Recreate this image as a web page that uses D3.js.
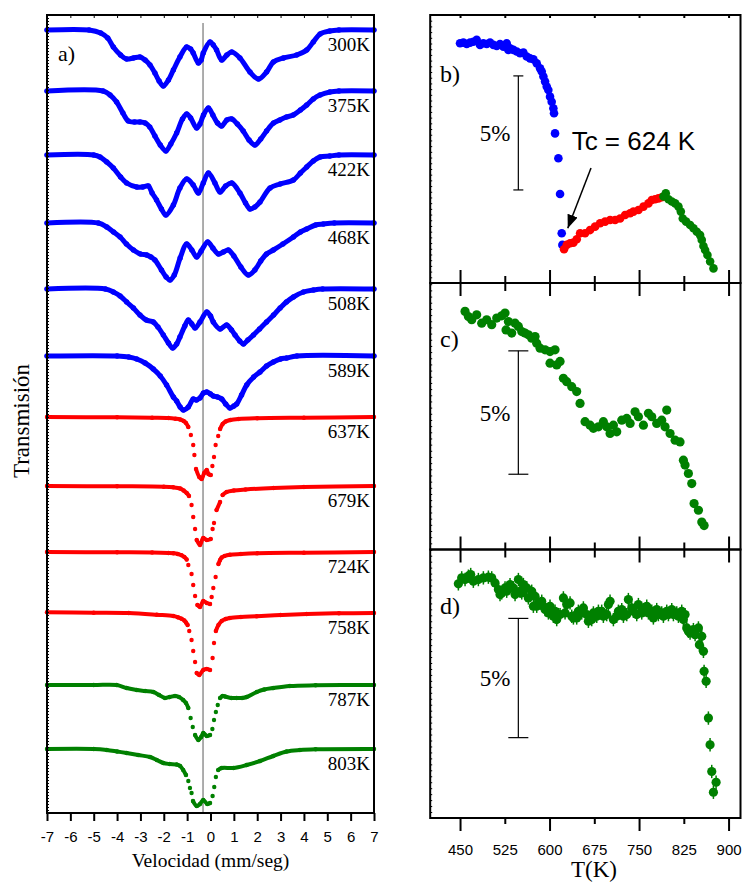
<!DOCTYPE html>
<html lang="es">
<head>
<meta charset="utf-8">
<title>Espectros Mossbauer</title>
<script src="https://d3js.org/d3.v7.min.js"></script>
<style>
  body { margin: 0; background: #fff; }
</style>
</head>
<body>
<div id="chart"></div>
<script>
// ---- datos: espectros (velocidad mm/s, absorcion en u.a.) ----
var s300 = [[-7,0],[-5.2,0],[-4.7,3],[-4.4,8],[-4.16,17],[-3.85,25],[-3.59,29],[-3.3,28],[-3.02,27],[-2.8,30],[-2.59,35],[-2.38,43],[-2.2,51],[-2.02,56],[-1.8,50],[-1.59,40],[-1.31,27],[-1.02,17],[-0.85,19],[-0.74,23],[-0.52,33],[-0.4,30],[-0.31,23],[-0.02,12],[0.12,15],[0.26,20],[0.48,30],[0.7,25],[0.91,22],[1.26,28],[1.69,42],[2.05,49],[2.4,42],[2.69,32],[3.12,28],[3.69,25],[4.12,20],[4.4,12],[4.69,4],[5.11,1],[5.5,0],[7,0]];
var s375 = [[-7,0],[-4.6,0],[-4.3,4],[-4.02,11],[-3.75,22],[-3.52,30],[-3.25,31],[-3.02,31],[-2.8,32],[-2.6,36],[-2.38,45],[-2.15,54],[-1.91,60],[-1.7,53],[-1.45,42],[-1.2,28],[-1.02,23],[-0.85,27],[-0.59,37],[-0.45,33],[-0.3,24],[-0.09,17],[0.1,24],[0.3,32],[0.48,35],[0.7,29],[0.91,28],[1.15,33],[1.4,40],[1.65,49],[1.9,54],[2.15,48],[2.4,40],[2.7,32],[2.97,29],[3.25,26],[3.54,24],[3.85,19],[4.12,14],[4.4,8],[4.69,4],[5.11,1],[5.5,0],[7,0]];
var s422 = [[-7,0],[-5,0],[-4.73,2],[-4.44,7],[-4.16,13],[-3.85,22],[-3.59,28],[-3.16,32],[-2.9,32],[-2.66,31],[-2.5,38],[-2.31,45],[-2.1,54],[-1.91,60],[-1.59,50],[-1.31,33],[-1.02,24],[-0.74,30],[-0.52,38],[-0.31,28],[-0.09,18],[0.19,28],[0.41,37],[0.65,31],[0.91,28],[1.26,38],[1.5,48],[1.69,54],[1.9,52],[2.12,47],[2.55,33],[2.98,29],[3.55,25],[3.85,18],[4.12,12],[4.4,6],[4.69,2],[5.11,1],[5.5,0],[7,0]];
var s468 = [[-7,0],[-4.8,0],[-4.44,4],[-4.15,9],[-3.87,14],[-3.6,21],[-3.3,27],[-3.0,31],[-2.73,32],[-2.55,34],[-2.38,37],[-2.1,47],[-1.9,54],[-1.73,57],[-1.55,52],[-1.3,35],[-1.02,21],[-0.8,27],[-0.59,34],[-0.4,28],[-0.12,19],[0.1,25],[0.34,31],[0.55,29],[0.76,27],[1.0,33],[1.3,44],[1.62,52],[1.9,47],[2.15,38],[2.4,31],[2.69,27],[3.1,21],[3.55,14],[3.85,9],[4.12,6],[4.5,2],[4.83,1],[5.3,0],[7,0]];
var s508 = [[-7,0],[-4.5,0],[-4.16,3],[-3.87,7],[-3.59,13],[-3.3,19],[-3.02,26],[-2.75,31],[-2.45,33],[-2.25,38],[-2.02,46],[-1.8,54],[-1.62,59],[-1.45,55],[-1.31,48],[-1.1,37],[-0.95,31],[-0.8,35],[-0.66,39],[-0.45,33],[-0.16,23],[0.0,27],[0.12,33],[0.41,40],[0.69,36],[0.9,41],[1.05,46],[1.25,52],[1.41,55],[1.6,51],[1.84,46],[2.1,40],[2.4,33],[2.7,26],[2.98,19],[3.25,13],[3.55,8],[3.98,3],[4.41,1],[4.8,0],[7,0]];
var s589 = [[-7,0],[-4,0],[-3.5,1],[-3.16,3],[-2.8,7],[-2.45,13],[-2.15,20],[-1.88,29],[-1.59,41],[-1.45,45],[-1.3,51],[-1.16,54],[-0.95,51],[-0.74,43],[-0.6,44],[-0.45,42],[-0.3,37],[-0.16,36],[0.0,38],[0.12,40],[0.3,41],[0.48,43],[0.65,48],[0.83,52],[1.0,50],[1.12,48],[1.33,39],[1.55,29],[1.85,21],[2.12,16],[2.4,10],[2.69,6],[3.0,3],[3.26,2],[3.7,0],[7,0]];
var s637 = [[-7,0],[-4,0.3],[-2.5,0.7],[-1.8,1],[-1.5,1.7],[-1.3,2.5],[-1.15,4],[-1.05,6],[-0.95,10],[-0.84,18],[-0.74,28],[-0.69,38],[-0.62,52],[-0.48,60],[-0.38,62],[-0.27,56],[-0.16,53],[-0.09,57],[0.01,58],[0.08,49],[0.15,40],[0.22,28],[0.33,19],[0.41,12],[0.52,7],[0.65,4.5],[0.85,3],[1.2,2],[2,1.3],[4,0.7],[7,0]];
var s679 = [[-7,0],[-4,0.3],[-2,0.7],[-1.6,1.3],[-1.3,2.5],[-1.15,4.5],[-1.02,7],[-0.92,10],[-0.81,19],[-0.74,31],[-0.66,43],[-0.59,54],[-0.45,59],[-0.31,52],[-0.16,54],[0.01,53],[0.09,43],[0.15,37],[0.26,24],[0.41,16],[0.52,9],[0.69,6],[1,4.5],[1.5,3.5],[2.7,2],[4,1],[7,0]];
var s724 = [[-7,0],[-4,0.3],[-2.5,0.5],[-1.8,1],[-1.59,1.3],[-1.4,2],[-1.24,3.3],[-1.12,5],[-1.02,7.5],[-0.95,13],[-0.81,22],[-0.74,33],[-0.66,44],[-0.56,53],[-0.45,55],[-0.31,49],[-0.16,51],[-0.02,52],[0.05,45],[0.12,36],[0.22,25],[0.34,12],[0.41,8],[0.48,5.5],[0.6,4],[0.83,2.7],[1.3,2],[2,1.3],[4,0.7],[7,0]];
var s758 = [[-7,-0.7],[-5,-0.3],[-3.5,0],[-2.3,1.7],[-1.59,3],[-1.4,4.3],[-1.24,5.7],[-1.12,7.5],[-1.05,9.5],[-0.98,12],[-0.91,18],[-0.81,27],[-0.74,38],[-0.66,49],[-0.59,60],[-0.48,62],[-0.31,57],[-0.16,56],[-0.02,57],[0.09,45],[0.15,30],[0.23,18],[0.34,12],[0.48,8],[0.65,6],[0.83,5],[1.3,4],[1.98,3.3],[3,2],[4.12,1],[5.5,0.3],[7,0]];
var s787 = [[-7,0],[-5,0],[-4.02,0],[-3.59,3],[-3.16,5],[-2.8,6],[-2.45,7],[-2.2,10],[-1.95,13],[-1.75,12],[-1.52,11],[-1.35,12],[-1.17,15],[-1.05,18],[-0.95,23],[-0.85,33],[-0.76,42],[-0.66,50],[-0.52,55],[-0.4,52],[-0.31,48],[-0.16,51],[-0.02,50],[0.08,44],[0.15,35],[0.23,27],[0.31,20],[0.41,13],[0.52,11],[0.62,11.5],[0.9,13],[1.12,13],[1.35,13],[1.55,12],[1.98,7],[2.3,4.5],[2.69,3],[3.4,1],[4.5,0.3],[7,0]];
var s803 = [[-7,0],[-5,0],[-4.44,1],[-4,2.5],[-3.59,4],[-3.1,6],[-2.59,8],[-2.3,11],[-2.02,14],[-1.75,15],[-1.45,15.5],[-1.3,17],[-1.17,21],[-1.05,26],[-0.95,32],[-0.88,39],[-0.81,44],[-0.75,52],[-0.59,57],[-0.45,55],[-0.31,51],[-0.14,55],[-0.02,54],[0.09,47],[0.16,38],[0.23,28],[0.33,21],[0.48,19],[0.98,19],[1.55,16],[2.12,12],[2.69,7],[3.26,2.5],[3.83,1],[4.5,0.3],[7,0]];

var espectros = [s300, s375, s422, s468, s508, s589, s637, s679, s724, s758, s787, s803];
var temperaturas = ["300K","375K","422K","468K","508K","589K","637K","679K","724K","758K","787K","803K"];
var fases = ["ferri","ferri","ferri","ferri","ferri","ferri","para","para","para","para","alta","alta"];
var desplaz = [15, 76, 140, 208, 274, 341, 402, 471, 537, 598, 670, 734];
var centro = -0.32;
var velTicks = d3.range(-7, 8);

// ---- datos: area vs temperatura (T en K, area relativa en %) ----
var bAzul = [[450,10.51],[455.6,10.54],[461.2,10.48],[466.8,10.54],[472.3,10.58],[477.9,10.66],[483.5,10.44],[489.1,10.51],[494.7,10.48],[500.3,10.54],[505.9,10.44],[511.5,10.39],[517,10.48],[522.6,10.36],[528.2,10.51],[531,10.22],[533.8,10.29],[539.4,10.22],[545,10.15],[550.6,10.07],[556.2,10.1],[561.7,9.93],[567.3,9.85],[572.9,9.81],[578.5,9.63],[584.1,9.41],[586.9,9.27],[589.7,9.05],[592.5,8.83],[595.3,8.61],[598,8.46],[600.8,8.17],[603.6,7.95],[606.4,7.66],[607.5,7.44],[609.2,6.56],[614.8,5.47],[617.6,3.9],[620.4,2.18],[621.5,1.67]];
var bRojo = [[624.3,1.48],[628.8,1.67],[634.4,1.74],[640,1.77],[645.6,1.92],[651.2,2.18],[659.5,2.18],[667.9,2.32],[676.3,2.47],[684.7,2.62],[693.1,2.69],[701.5,2.76],[709.9,2.76],[718.2,2.83],[726.6,2.98],[735,3.06],[740.6,3.13],[749,3.2],[757.4,3.35],[765.7,3.49],[771.3,3.64],[776.9,3.67],[782.5,3.71],[788.1,3.76]];
var bVerde = [[790.9,3.79],[794.8,3.93],[799.3,3.67],[804.9,3.57],[810.5,3.49],[816,3.35],[820,3.13],[823.3,2.83],[828.9,2.69],[835.6,2.54],[841.2,2.4],[846.8,2.25],[852.3,2.1],[855.1,1.89],[857.9,1.62],[860.7,1.45],[864.6,1.23],[869.1,0.94],[874.7,0.64]];
var cVerde = [[458.4,9.65],[464,9.44],[469.6,9.31],[477.9,9.51],[486.3,9.17],[494.7,9.31],[503.1,9.11],[511.5,9.38],[519.8,9.47],[525.4,9.58],[531,9.24],[527.1,8.9],[536.6,8.77],[542.2,9.17],[547.8,9.04],[553.4,8.83],[558.9,8.77],[564.5,8.7],[570.1,8.56],[575.7,8.63],[578.5,8.36],[584.1,8.16],[592.5,8.09],[600.8,8.02],[609.2,8.09],[600.8,7.55],[612,7.48],[617.6,7.62],[623.2,6.94],[628.8,6.8],[637.2,6.6],[645.5,6.4],[651.1,5.92],[659.5,5.18],[667.9,5.04],[673.5,4.91],[681.9,4.97],[690.2,5.18],[695.8,4.97],[701.4,4.7],[707,5.04],[712.6,4.77],[721,5.24],[729.4,5.31],[735,5.11],[743.3,5.58],[748.9,5.38],[757.3,5.04],[765.7,5.52],[771.3,5.38],[779.6,5.11],[788,5.24],[796.4,5.65],[793.6,4.97],[802,4.7],[810.4,4.43],[818.7,4.36],[824.3,3.62],[827.1,3.42],[832.7,3.08],[838.3,2.67],[842.2,1.86],[849.5,1.59],[855.1,1.11],[859,0.97]];
var dVerde = [[447.2,9.82],[452.8,10.07],[458.4,10],[464,10.14],[467.9,10.21],[472.3,9.93],[480.7,10],[489.1,10.07],[497.5,10.1],[503.1,10.07],[508.7,9.86],[514.3,9.58],[519.8,9.44],[525.4,9.65],[533.8,9.79],[539.4,9.65],[547.8,10],[550.6,9.51],[556.2,9.79],[561.7,9.65],[570.1,9.51],[575.7,9.3],[572.9,8.88],[581.3,9.02],[586.9,9.09],[592.5,8.74],[600.8,8.88],[609.2,8.67],[612,8.32],[617.6,8.53],[623.2,9.23],[628.8,8.95],[634.4,9.02],[640,8.39],[648.3,8.67],[656.7,8.81],[665.1,8.25],[673.5,8.6],[681.9,8.67],[690.2,8.46],[698.6,8.95],[701.4,9.09],[707,8.32],[715.4,8.67],[723.8,8.46],[732.1,9.16],[740.5,8.67],[748.9,8.95],[757.3,8.74],[765.7,8.6],[774,8.39],[779.6,8.74],[788,8.6],[796.4,8.67],[804.8,8.74],[813.2,8.6],[821.5,8.67],[827.1,8.53],[829.9,7.97],[835.5,7.76],[841.1,7.9],[849.5,7.97],[855.1,7.62],[851.1,7.27],[857.9,6.99],[859,6.15],[862.4,5.73],[866.2,4.19],[869,3.07],[871.8,1.95],[879.1,1.5],[874.6,1.08],
    [517,9.37],[528.2,9.51],[542.2,9.37],[553.4,9.44],[564.5,9.23],[578.5,8.88],[589.7,8.88],[598.1,8.6],[606.4,8.46],[614.8,8.53],[626,8.6],[637.2,8.46],[645.5,8.39],[653.9,8.6],[662.3,8.53],[670.7,8.32],[679.1,8.46],[687.4,8.67],[695.8,8.53],[712.6,8.46],[721,8.74],[729.4,8.53],[737.7,8.81],[746.1,8.53],[754.5,8.6],[762.9,8.88],[771.3,8.67],[782.4,8.53],[790.8,8.46],[799.2,8.53],[807.6,8.53],[816,8.46],[824.3,8.32],[832.7,7.83],[843.9,7.69]];
var dError = 0.28;
var tTicks = [450, 525, 600, 675, 750, 825, 900];

// ---- dibujo ----
var serif = "'Liberation Serif','Times New Roman',serif";
var sans = "'Liberation Sans',Arial,sans-serif";

var svg = d3.select("#chart").append("svg")
    .attr("width", 750).attr("height", 883);

var color = d3.scaleOrdinal().domain(["ferri","para","alta"]).range(["#0000ff","#ff0000","#008000"]);

// panel a)
var L = {left: 47, right: 374, top: 15, bottom: 813};
var xV = d3.scaleLinear().domain([-7, 7]).range([L.left, L.right]);
var yA = d3.scaleLinear().domain([0, -798]).range([L.top, L.bottom]);

svg.append("line")
    .attr("x1", xV(centro)).attr("x2", xV(centro))
    .attr("y1", yA(-8)).attr("y2", L.bottom)
    .attr("stroke", "#777").attr("stroke-width", 1.2);

// separa en tramos donde la pendiente es muy fuerte (puntos sueltos del doblete)
function tramos(p, cortar) {
    var segs = [[p[0]]];
    for (var k = 1; k < p.length; k++) {
        var dx = Math.abs(p[k][0] - p[k-1][0]), dy = Math.abs(p[k][1] - p[k-1][1]);
        if (cortar && dy > 2.5 * Math.max(dx, 0.01)) segs.push([p[k]]);
        else segs[segs.length-1].push(p[k]);
    }
    return segs;
}

var linea = d3.line().curve(d3.curveCatmullRom.alpha(0.5));

espectros.forEach(function(s, i) {
    var c = color(fases[i]);
    var ferri = fases[i] == "ferri";
    var grueso = ferri ? 5 : 4;
    var pts = s.map(function(d) { return [xV(d[0]), yA(-desplaz[i] - d[1])]; });
    var g = svg.append("g");
    tramos(pts, !ferri).forEach(function(seg) {
        if (seg.length > 1)
            g.append("path").attr("d", linea(seg))
                .attr("fill", "none").attr("stroke", c)
                .attr("stroke-width", grueso).attr("stroke-linecap", "round");
    });
    g.selectAll("circle").data(pts).enter().append("circle")
        .attr("cx", function(d) { return d[0]; })
        .attr("cy", function(d) { return d[1]; })
        .attr("r", grueso / 2 + 0.2)
        .attr("fill", c);
    svg.append("text")
        .attr("x", L.right - 4)
        .attr("y", yA(-desplaz[i]) + 21)
        .attr("text-anchor", "end")
        .style("font-family", serif).style("font-size", "19px")
        .text(temperaturas[i]);
});

// ejes del panel a)
svg.append("g").attr("transform", "translate(0," + L.bottom + ")")
    .call(d3.axisBottom(xV).tickValues(velTicks).tickSize(8).tickPadding(10)
        .tickFormat(function(d) { return String(d); }))
    .call(function(g) {
        g.select(".domain").remove();
        g.selectAll(".tick line").attr("stroke-width", 2);
        g.selectAll("text").style("font-family", sans).style("font-size", "15px");
    });
svg.append("g").attr("transform", "translate(0," + L.top + ")")
    .call(d3.axisBottom(xV).tickValues(velTicks).tickSize(3).tickFormat(""))
    .call(function(g) { g.select(".domain").remove(); });
svg.append("g").attr("transform", "translate(" + L.left + ",0)")
    .call(d3.axisRight(yA).tickValues(d3.range(0, -798, -3)).tickSize(2).tickFormat(""))
    .call(function(g) { g.select(".domain").remove(); });

svg.append("rect")
    .attr("x", L.left).attr("y", L.top)
    .attr("width", L.right - L.left).attr("height", L.bottom - L.top)
    .attr("fill", "none").attr("stroke", "#000").attr("stroke-width", 2);

svg.append("text").attr("x", 58).attr("y", 61)
    .style("font-family", serif).style("font-size", "22px").text("a)");
svg.append("text").attr("x", (L.left + L.right) / 2).attr("y", 867)
    .attr("text-anchor", "middle")
    .style("font-family", serif).style("font-size", "19.5px")
    .text("Velocidad (mm/seg)");
svg.append("text")
    .attr("transform", "translate(29,421) rotate(-90)")
    .attr("text-anchor", "middle")
    .style("font-family", serif).style("font-size", "23px")
    .text("Transmisión");

// paneles b), c), d)
var xK = d3.scaleLinear().domain([400, 920]).range([430.2, 740.5]);
var paneles = [
    {nombre: "b)", top: 15, bottom: 283, max: 11.75, series: [[bAzul, "ferri"], [bRojo, "para"], [bVerde, "alta"]], barra: 4.08, tapa: 5, error: 0},
    {nombre: "c)", top: 283, bottom: 549.5, max: 10.8, series: [[cVerde, "alta"]], barra: 3.05, tapa: 10, error: 0},
    {nombre: "d)", top: 549.5, bottom: 818, max: 11.26, series: [[dVerde, "alta"]], barra: 3.37, tapa: 10, error: dError}
];

paneles.forEach(function(p, k) {
    var y = d3.scaleLinear().domain([0, p.max]).range([p.bottom, p.top]);
    var g = svg.append("g");

    p.series.forEach(function(s) {
        var c = color(s[1]);
        if (p.error > 0) {
            g.selectAll(null).data(s[0]).enter().append("line")
                .attr("x1", function(d) { return xK(d[0]); })
                .attr("x2", function(d) { return xK(d[0]); })
                .attr("y1", function(d) { return y(d[1] - p.error); })
                .attr("y2", function(d) { return y(d[1] + p.error); })
                .attr("stroke", c).attr("stroke-width", 1.5);
        }
        g.selectAll(null).data(s[0]).enter().append("circle")
            .attr("cx", function(d) { return xK(d[0]); })
            .attr("cy", function(d) { return y(d[1]); })
            .attr("r", k == 0 ? 4.3 : 4.6)
            .attr("fill", c);
    });

    // barra de escala 5%
    var xb = xK(547.7);
    g.append("line").attr("x1", xb).attr("x2", xb)
        .attr("y1", y(p.barra)).attr("y2", y(p.barra + 5))
        .attr("stroke", "#000").attr("stroke-width", 1.2);
    [p.barra, p.barra + 5].forEach(function(v) {
        g.append("line").attr("x1", xb - p.tapa).attr("x2", xb + p.tapa)
            .attr("y1", y(v)).attr("y2", y(v))
            .attr("stroke", "#000").attr("stroke-width", 1.2);
    });
    g.append("text")
        .attr("x", xb - 8).attr("y", y(p.barra + 2.5) + 8)
        .attr("text-anchor", "end")
        .style("font-family", serif).style("font-size", "23px")
        .text("5%");

    g.append("text").attr("x", 440).attr("y", y(p.max) + (k == 0 ? 67 : 64))
        .style("font-family", serif).style("font-size", "24px").text(p.nombre);

    // marcas
    g.append("g").attr("transform", "translate(" + xK(400) + ",0)")
        .call(d3.axisRight(y).tickValues(d3.range(0, p.max, 0.25)).tickSize(2).tickFormat(""))
        .call(function(a) { a.select(".domain").remove(); });
    var arriba = g.append("g").attr("transform", "translate(0," + p.top + ")")
        .call(d3.axisBottom(xK).tickValues(tTicks).tickSize(k == 0 ? 3 : 13).tickFormat(""));
    arriba.select(".domain").remove();
    arriba.selectAll(".tick line").attr("stroke-width", 2);
    if (k > 0) arriba.selectAll(".tick line").attr("y2", function(d, i) { return i % 2 ? 8 : 13; });
    if (k < 2) {
        var abajo = g.append("g").attr("transform", "translate(0," + p.bottom + ")")
            .call(d3.axisTop(xK).tickValues(tTicks).tickSize(13).tickFormat(""));
        abajo.select(".domain").remove();
        abajo.selectAll(".tick line").attr("stroke-width", 2)
            .attr("y2", function(d, i) { return i % 2 ? -7 : -13; });
    }

    g.append("rect")
        .attr("x", xK(400)).attr("y", p.top)
        .attr("width", xK(920) - xK(400)).attr("height", p.bottom - p.top)
        .attr("fill", "none").attr("stroke", "#000").attr("stroke-width", 2);
});

// eje T
var ejeT = svg.append("g").attr("transform", "translate(0,818)")
    .call(d3.axisBottom(xK).tickValues(tTicks).tickSize(13).tickPadding(13));
ejeT.select(".domain").remove();
ejeT.selectAll(".tick line").attr("stroke-width", 2)
    .attr("y2", function(d, i) { return i % 2 ? 6 : 13; });
ejeT.selectAll("text").style("font-family", sans).style("font-size", "15px");

svg.append("text").attr("x", 594).attr("y", 877)
    .attr("text-anchor", "middle")
    .style("font-family", serif).style("font-size", "23px").text("T(K)");

// Tc
var yb = d3.scaleLinear().domain([0, 11.75]).range([283, 15]);
svg.append("text").attr("x", xK(637)).attr("y", yb(5.85))
    .style("font-family", sans).style("font-size", "26px").text("Tc = 624 K");
svg.append("defs").append("marker")
    .attr("id", "punta").attr("viewBox", "0 0 10 10")
    .attr("refX", 10).attr("refY", 5)
    .attr("markerWidth", 9).attr("markerHeight", 9)
    .attr("orient", "auto")
    .append("path").attr("d", "M0,1L10,5L0,9z").attr("fill", "#000");
svg.append("line")
    .attr("x1", xK(669.5)).attr("y1", yb(5.04))
    .attr("x2", xK(630.5)).attr("y2", yb(2.4))
    .attr("stroke", "#000").attr("stroke-width", 1.5)
    .attr("marker-end", "url(#punta)");
</script>
</body>
</html>
